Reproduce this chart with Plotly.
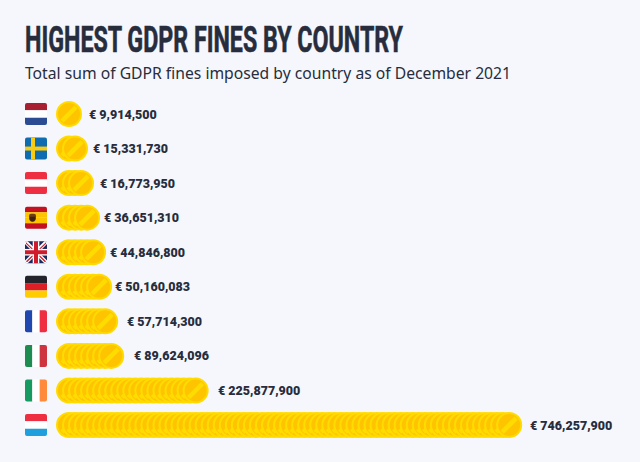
import plotly.graph_objects as go

countries = ['Netherlands', 'Sweden', 'Austria', 'Spain', 'United Kingdom',
             'Germany', 'France', 'Italy', 'Ireland', 'Luxembourg']
fines = [9914500, 15331730, 16773950, 36651310, 44846800,
         50160083, 57714300, 89624096, 225877900, 746257900]
coin_counts = [1, 2, 3, 4, 5, 6, 7, 8, 22, 74]

title = 'HIGHEST GDPR FINES BY COUNTRY'
subtitle = 'Total sum of GDPR fines imposed by country as of December 2021'

WIDTH, HEIGHT = 640, 462
BG = '#F5F7FC'
INK = '#272D3C'
RIM = '#FFDC00'
FACE = '#FFC400'

# layout in pixels
COIN_STEP = 6.03
FIRST_COIN = 69
ROW_TOP = 114
ROW_STEP = 34.56
FLAG_X = 25
FLAG_SIZE = 22
LABEL_GAPS = [18, 16, 17, 15, 15, 14, 20, 21, 20, 19]
TITLE_X = 25
TITLE_WIDTH = 378


def px(x):
    return x / WIDTH


def py(y):
    return 1 - y / HEIGHT


def rounded(x0, y0, x1, y1, color, tl=0, tr=0, br=0, bl=0):
    # filled box with its own radius on each corner
    p = [f'M{px(x0 + tl)},{py(y0)}', f'L{px(x1 - tr)},{py(y0)}']
    if tr:
        p.append(f'Q{px(x1)},{py(y0)} {px(x1)},{py(y0 + tr)}')
    p.append(f'L{px(x1)},{py(y1 - br)}')
    if br:
        p.append(f'Q{px(x1)},{py(y1)} {px(x1 - br)},{py(y1)}')
    p.append(f'L{px(x0 + bl)},{py(y1)}')
    if bl:
        p.append(f'Q{px(x0)},{py(y1)} {px(x0)},{py(y1 - bl)}')
    p.append(f'L{px(x0)},{py(y0 + tl)}')
    if tl:
        p.append(f'Q{px(x0)},{py(y0)} {px(x0 + tl)},{py(y0)}')
    return dict(type='path', path=' '.join(p) + ' Z', xref='paper', yref='paper',
                fillcolor=color, line=dict(width=0), layer='above')


def poly(points, color):
    p = ' '.join(('M' if i == 0 else 'L') + f'{px(x)},{py(y)}' for i, (x, y) in enumerate(points))
    return dict(type='path', path=p + ' Z', xref='paper', yref='paper',
                fillcolor=color, line=dict(width=0), layer='above')


def h_bands(y, colors):
    x0, x1 = FLAG_X, FLAG_X + FLAG_SIZE
    top = y - FLAG_SIZE / 2
    h = FLAG_SIZE / len(colors)
    out = []
    for i, c in enumerate(colors):
        r_top = 2 if i == 0 else 0
        r_bot = 2 if i == len(colors) - 1 else 0
        out.append(rounded(x0, top + i * h, x1, top + (i + 1) * h, c, r_top, r_top, r_bot, r_bot))
    return out


def v_bands(y, colors):
    top, bot = y - FLAG_SIZE / 2, y + FLAG_SIZE / 2
    w = FLAG_SIZE / len(colors)
    out = []
    for i, c in enumerate(colors):
        r_l = 2 if i == 0 else 0
        r_r = 2 if i == len(colors) - 1 else 0
        out.append(rounded(FLAG_X + i * w, top, FLAG_X + (i + 1) * w, bot, c, r_l, r_r, r_r, r_l))
    return out


def flag(country, y):
    x0, x1 = FLAG_X, FLAG_X + FLAG_SIZE
    top, bot = y - FLAG_SIZE / 2, y + FLAG_SIZE / 2
    if country == 'Netherlands':
        return h_bands(y, ['#A91F32', '#FFFFFF', '#2B4C93'])
    if country == 'Sweden':
        return [rounded(x0, top, x1, bot, '#0F6CB0', 2, 2, 2, 2),
                rounded(x0, y - 2, x1, y + 2, '#F7CC12'),
                rounded(x0 + 6, top, x0 + 10, bot, '#F7CC12')]
    if country == 'Austria':
        return h_bands(y, ['#EE2F42', '#FFFFFF', '#EE2F42'])
    if country == 'Spain':
        return h_bands(y, ['#C4111F', '#FFC400', '#FFC400', '#C4111F']) + [
            rounded(x0 + 4, y - 4, x0 + 11, y + 3, '#6E3F12', 2, 2, 2, 2),
            rounded(x0 + 5, y - 1, x0 + 10, y + 4, '#3E2410', 0, 0, 2, 2)]
    if country == 'United Kingdom':
        w = 1.7
        red, white, blue = '#CF1B2B', '#FFFFFF', '#17295E'
        return [rounded(x0, top, x1, bot, blue, 2, 2, 2, 2),
                poly([(x0 + 1, top), (x0 + 1 + w, top), (x1, bot - 1 - w), (x1, bot - 1), (x1 - 1, bot),
                      (x1 - 1 - w, bot), (x0, top + 1 + w), (x0, top + 1)], white),
                poly([(x1 - 1, top), (x1 - 1 - w, top), (x0, bot - 1 - w), (x0, bot - 1), (x0 + 1, bot),
                      (x0 + 1 + w, bot), (x1, top + 1 + w), (x1, top + 1)], white),
                poly([(x0 + 1, top + 1), (x1 - 1, bot - 2), (x1 - 2, bot - 1), (x0 + 1, top + 2.4)], red),
                poly([(x1 - 1, top + 1), (x0 + 1, bot - 2), (x0 + 2, bot - 1), (x1 - 1, top + 2.4)], red),
                rounded(x0, y - 3.3, x1, y + 3.3, white),
                rounded(x0 + 7.7, top, x1 - 7.7, bot, white),
                rounded(x0, y - 2, x1, y + 2, red),
                rounded(x0 + 9, top, x1 - 9, bot, red)]
    if country == 'Germany':
        return h_bands(y, ['#23232B', '#DC1F26', '#FFCC00'])
    if country == 'France':
        return v_bands(y, ['#1F47AE', '#FFFFFF', '#EE2F42'])
    if country == 'Italy':
        return v_bands(y, ['#1E8C50', '#FFFFFF', '#CE3340'])
    if country == 'Ireland':
        return v_bands(y, ['#179A62', '#FFFFFF', '#FF8A3C'])
    if country == 'Luxembourg':
        return h_bands(y, ['#EE2F42', '#FFFFFF', '#1F9FDE'])
    return []


fig = go.Figure()

# every coin is a rimmed disc followed by its stripe, later ones sit on top
for country, count in zip(countries, coin_counts):
    xs, symbols, sizes, colors, line_colors, line_widths = [], [], [], [], [], []
    for i in range(count):
        xs += [i, i]
        symbols += ['circle', 'line-ne']
        sizes += [24, 14]
        colors += [FACE, RIM]
        line_colors += [RIM, RIM]
        line_widths += [2, 4.5]
    fig.add_trace(go.Scatter(
        x=xs, y=[country] * len(xs), mode='markers', showlegend=False, hoverinfo='skip',
        marker=dict(symbol=symbols, size=sizes, color=colors, opacity=1,
                    line=dict(color=line_colors, width=line_widths))))

shapes = []
for i, country in enumerate(countries):
    shapes += flag(country, ROW_TOP + i * ROW_STEP)

# the title stays first, the script at the bottom looks it up by position
annotations = [
    dict(text=f'<b>{title}</b>', x=px(25), y=py(40), xref='paper', yref='paper',
         xanchor='left', yanchor='middle', showarrow=False,
         font=dict(family='Roboto', size=37, color=INK)),
    dict(text=subtitle, x=px(23), y=py(73), xref='paper', yref='paper',
         xanchor='left', yanchor='middle', showarrow=False,
         font=dict(family='Noto Sans', size=15.7, color=INK)),
]
for country, count, fine, gap in zip(countries, coin_counts, fines, LABEL_GAPS):
    annotations.append(dict(
        text=f'€ {fine:,}', x=count - 1 + gap / COIN_STEP, y=country,
        xanchor='left', yanchor='middle', showarrow=False,
        font=dict(family='Roboto', size=12.5, color=INK, weight=900)))

fig.update_layout(
    width=WIDTH, height=HEIGHT,
    margin=dict(l=0, r=0, t=0, b=0),
    paper_bgcolor=BG, plot_bgcolor=BG,
    showlegend=False,
    shapes=shapes,
    xaxis=dict(visible=False, range=[-FIRST_COIN / COIN_STEP, (WIDTH - FIRST_COIN) / COIN_STEP]),
    yaxis=dict(visible=False, type='category', categoryorder='array', categoryarray=countries,
               range=[(HEIGHT - ROW_TOP) / ROW_STEP, -ROW_TOP / ROW_STEP]),
    annotations=annotations,
)

# no condensed face is installed, so squeeze the title to the reference width
squeeze = f"""
document.body.style.margin = '0';
var t = document.querySelector('.annotation-text');
var m = t.getScreenCTM();
t.style.textAnchor = 'start';
t.setAttribute('x', ({TITLE_X} - m.e) / m.a);
t.setAttribute('textLength', {TITLE_WIDTH});
t.setAttribute('lengthAdjust', 'spacingAndGlyphs');
t.setAttribute('stroke', '{INK}');
t.setAttribute('stroke-width', '0.6');
"""
fig.write_html('out.html', config=dict(displayModeBar=False), post_script=squeeze)
